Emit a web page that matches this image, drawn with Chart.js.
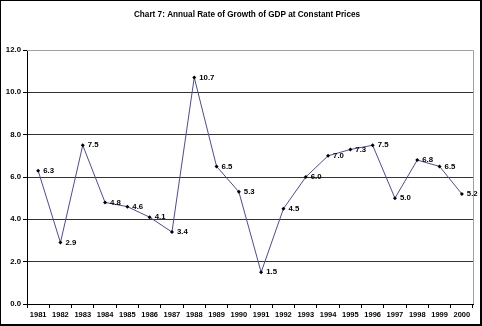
<!DOCTYPE html>
<html>
<head>
<meta charset="utf-8">
<script src="https://cdn.jsdelivr.net/npm/chart.js@4/dist/chart.umd.min.js"></script>
<style>
  html, body { margin: 0; padding: 0; background: #fff; }
  canvas { display: block; }
</style>
</head>
<body>
<canvas id="ch7" width="482" height="326"></canvas>
<script>
// annual GDP growth at constant prices, %
const years = ['1981', '1982', '1983', '1984', '1985', '1986', '1987', '1988', '1989', '1990',
               '1991', '1992', '1993', '1994', '1995', '1996', '1997', '1998', '1999', '2000'];
const growth = [6.3, 2.9, 7.5, 4.8, 4.6, 4.1, 3.4, 10.7, 6.5, 5.3,
                1.5, 4.5, 6.0, 7.0, 7.3, 7.5, 5.0, 6.8, 6.5, 5.2];
const yTicks = [0, 2, 4, 6, 8, 10, 12];
const titleText = 'Chart 7: Annual Rate of Growth of GDP at Constant Prices';

const FONT = 'Liberation Sans, Arial, sans-serif';

// frame round the whole chart, grey border on the plot area, and the heading
const frame = {
  id: 'frame',
  beforeDraw(chart) {
    const c = chart.ctx;
    c.save();
    c.fillStyle = '#fff';
    c.fillRect(0, 0, chart.width, chart.height);
    c.restore();
  },
  afterDraw(chart) {
    const c = chart.ctx;
    const a = chart.chartArea;
    c.save();
    c.strokeStyle = '#a0a0a0';
    c.lineWidth = 1;
    c.beginPath();
    c.moveTo(a.left, a.top + 0.5);
    c.lineTo(Math.round(a.right) + 0.5, a.top + 0.5);
    c.lineTo(Math.round(a.right) + 0.5, a.bottom);
    c.stroke();
    c.strokeStyle = '#000';
    c.lineWidth = 1;
    c.strokeRect(0.5, 0.5, chart.width - 2, chart.height - 2);
    c.lineWidth = 2;
    c.beginPath();
    c.moveTo(chart.width - 1, 0);
    c.lineTo(chart.width - 1, chart.height - 1);
    c.lineTo(0, chart.height - 1);
    c.stroke();

    c.font = 'bold 8.2px ' + FONT;
    c.fillStyle = '#000';
    c.textAlign = 'center';
    c.textBaseline = 'middle';
    c.fillText(titleText, 247, 15);
    c.restore();
  }
};

// value written to the right of each point
const valueLabels = {
  id: 'valueLabels',
  afterDatasetsDraw(chart) {
    const c = chart.ctx;
    const meta = chart.getDatasetMeta(0);
    c.save();
    c.font = 'bold 7.8px ' + FONT;
    c.fillStyle = '#000';
    c.textAlign = 'left';
    c.textBaseline = 'middle';
    meta.data.forEach((pt, i) => {
      c.fillText(growth[i].toFixed(1), pt.x + 5, pt.y);
    });
    c.restore();
  }
};

const ctx = document.getElementById('ch7').getContext('2d');
new Chart(ctx, {
  type: 'line',
  data: {
    labels: years,
    datasets: [{
      data: growth,
      borderColor: '#4a4aa8',
      borderWidth: 1,
      tension: 0,
      pointStyle: 'rectRot',
      pointRadius: 2,
      pointBackgroundColor: '#000',
      pointBorderColor: '#000',
      pointBorderWidth: 0,
      clip: false
    }]
  },
  options: {
    responsive: false,
    animation: false,
    events: [],
    layout: { padding: { left: 0, right: 9, top: 50, bottom: 0 } },
    plugins: {
      legend: { display: false },
      tooltip: { enabled: false },
      title: { display: false }
    },
    scales: {
      x: {
        offset: true,
        grid: { display: true, drawOnChartArea: false, drawTicks: true, tickLength: 4, color: '#000', offset: true },
        border: { color: '#000', width: 1 },
        ticks: { color: '#000', font: { family: FONT, size: 7.5, weight: 'bold' }, padding: 2, maxRotation: 0, autoSkip: false },
        afterFit(s) { s.height = 22; }
      },
      y: {
        min: yTicks[0],
        max: yTicks[yTicks.length - 1],
        afterBuildTicks(s) { s.ticks = yTicks.map(v => ({ value: v })); },
        grid: {
          color: c => c.tick && c.tick.value === 12 ? '#a0a0a0' : '#333',
          tickColor: '#000',
          tickLength: 4,
          lineWidth: 1
        },
        border: { color: '#000', width: 1 },
        ticks: {
          color: '#000',
          font: { family: FONT, size: 7.8, weight: 'bold' },
          padding: 2,
          callback: v => Number(v).toFixed(1)
        },
        afterFit(s) { s.width = 27; }
      }
    }
  },
  plugins: [frame, valueLabels]
});
</script>
</body>
</html>
